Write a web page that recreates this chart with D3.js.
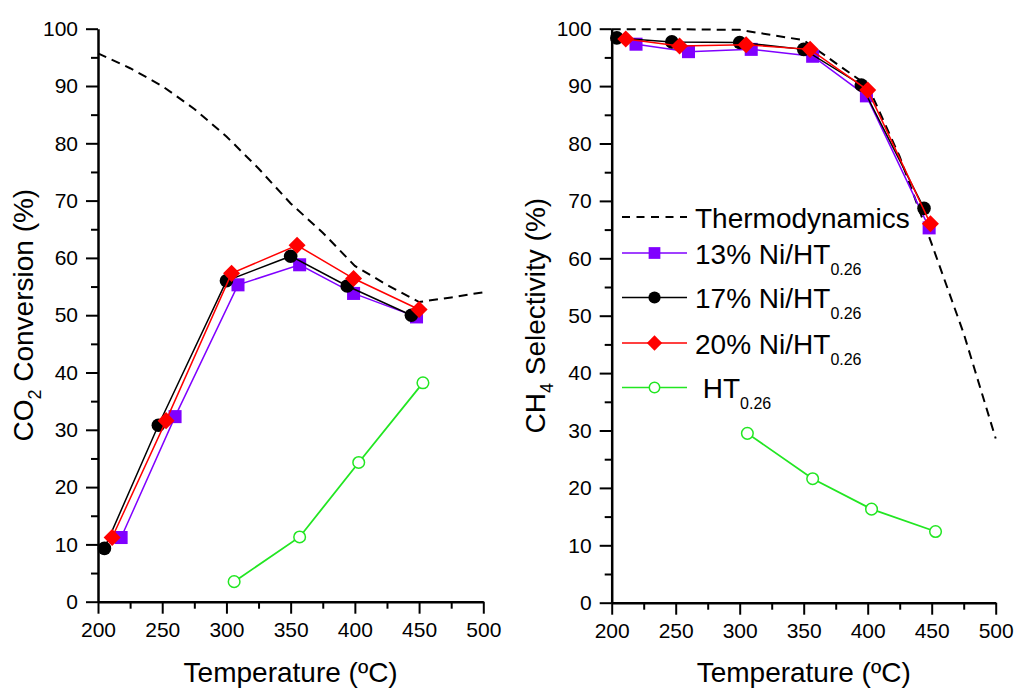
<!DOCTYPE html>
<html>
<head>
<meta charset="utf-8">
<script src="https://cdn.jsdelivr.net/npm/d3@7"></script>
<style>
  body { margin: 0; background: #fff; }
  text { font-family: "Liberation Sans", Arial, Helvetica, sans-serif; fill: #000; }
</style>
</head>
<body>
<svg id="chart" width="1015" height="688"></svg>
<script>
// ---- Axis ticks ----
const tempTicks = [200, 250, 300, 350, 400, 450, 500];
const tempMinorTicks = [225, 275, 325, 375, 425, 475];
const pctTicks = [0, 10, 20, 30, 40, 50, 60, 70, 80, 90, 100];
const pctMinorTicks = [5, 15, 25, 35, 45, 55, 65, 75, 85, 95];

// ---- Thermodynamic equilibrium ----
const thermoConvTemp = [200, 225, 250, 275, 300, 325, 350, 375, 400, 425, 450, 475, 500];
const thermoConversion = [95.7, 93.1, 90.0, 86.0, 81.2, 75.6, 69.5, 64.4, 58.6, 55.3, 52.3, 53.1, 54.0];
const thermoSelTemp = [200, 250, 300, 325, 350, 375, 400, 425, 450, 475, 500];
const thermoSelectivity = [99.9, 99.9, 99.8, 98.9, 98.0, 94.0, 90.1, 77.7, 62.5, 46.9, 28.6];

// ---- CO2 conversion (%) ----
const conv13Temp = [218, 260, 309, 357, 399, 448];
const conv13 = [11.2, 32.3, 55.3, 58.8, 53.8, 49.7];
const conv17Temp = [205, 247, 300, 350, 394, 444];
const conv17 = [9.3, 30.8, 56.0, 60.3, 55.1, 50.0];
const conv20Temp = [211, 253, 304, 355, 399, 450];
const conv20 = [11.2, 31.6, 57.3, 62.2, 56.4, 51.0];
const convHTTemp = [306, 357, 403, 453];
const convHT = [3.5, 11.3, 24.3, 38.2];

// ---- CH4 selectivity (%) ----
const sel13Temp = [219, 260, 309, 357, 399, 448];
const sel13 = [97.3, 96.0, 96.4, 95.2, 88.3, 65.3];
const sel17Temp = [204, 247, 300, 350, 395, 444];
const sel17 = [98.4, 97.7, 97.6, 96.4, 90.2, 68.7];
const sel20Temp = [211, 253, 305, 355, 400, 449];
const sel20 = [98.2, 97.0, 97.2, 96.4, 89.3, 66.0];
const selHTTemp = [306, 357, 403, 453];
const selHT = [29.5, 21.6, 16.3, 12.4];

// ---- Legend labels ----
const legendMain = ["Thermodynamics", "13% Ni/HT", "17% Ni/HT", "20% Ni/HT", " HT"];
const legendSub = ["", "0.26", "0.26", "0.26", "0.26"];

const zip = (xs, ys) => xs.map((x, i) => ({ t: x, v: ys[i] }));

const styles = {
  thermo: { color: "#000", dash: "9,6", width: 2, marker: null },
  s13: { color: "#8000ff", width: 1.5, marker: "square" },
  s17: { color: "#000", width: 1.5, marker: "circle" },
  s20: { color: "#ff0000", width: 1.5, marker: "diamond" },
  ht: { color: "#22e622", width: 1.8, marker: "open" }
};

const panels = [
  {
    left: 98, right: 483.3, top: 28.7, bottom: 601.7,
    title: ["CO", "2", " Conversion (%)"], titleX: 33,
    series: [
      { key: "thermo", pts: zip(thermoConvTemp, thermoConversion) },
      { key: "s13", pts: zip(conv13Temp, conv13) },
      { key: "s17", pts: zip(conv17Temp, conv17) },
      { key: "s20", pts: zip(conv20Temp, conv20) },
      { key: "ht", pts: zip(convHTTemp, convHT) }
    ]
  },
  {
    left: 611.7, right: 995.7, top: 28.7, bottom: 602.7,
    title: ["CH", "4", " Selectivity (%)"], titleX: 545,
    series: [
      { key: "thermo", pts: zip(thermoSelTemp, thermoSelectivity) },
      { key: "s13", pts: zip(sel13Temp, sel13) },
      { key: "s17", pts: zip(sel17Temp, sel17) },
      { key: "s20", pts: zip(sel20Temp, sel20) },
      { key: "ht", pts: zip(selHTTemp, selHT) }
    ],
    legend: true
  }
];

const svg = d3.select("#chart");

function drawMarker(g, type, x, y, color, scale = 1) {
  if (type === "square") {
    g.append("path").attr("transform", `translate(${x},${y})`)
      .attr("d", d3.symbol(d3.symbolSquare, 170 * scale * scale)()).attr("fill", color);
  } else if (type === "circle") {
    g.append("path").attr("transform", `translate(${x},${y})`)
      .attr("d", d3.symbol(d3.symbolCircle, 145 * scale * scale)()).attr("fill", color);
  } else if (type === "diamond") {
    g.append("path").attr("transform", `translate(${x},${y}) rotate(45)`)
      .attr("d", d3.symbol(d3.symbolSquare, 145 * scale * scale)()).attr("fill", color);
  } else if (type === "open") {
    g.append("circle").attr("cx", x).attr("cy", y).attr("r", 5.8 * scale)
      .attr("fill", "#fff").attr("stroke", color).attr("stroke-width", 1.5);
  }
}

panels.forEach(p => {
  const x = d3.scaleLinear().domain([200, 500]).range([p.left, p.right]);
  const y = d3.scaleLinear().domain([0, 100]).range([p.bottom, p.top]);
  const g = svg.append("g");

  // minor ticks
  g.append("g").attr("transform", `translate(0,${p.bottom})`)
    .call(d3.axisBottom(x).tickValues(tempMinorTicks).tickSize(7).tickFormat(""))
    .call(a => a.select(".domain").remove());
  g.append("g").attr("transform", `translate(${p.left},0)`)
    .call(d3.axisLeft(y).tickValues(pctMinorTicks).tickSize(7).tickFormat(""))
    .call(a => a.select(".domain").remove());

  // major axes
  const xa = g.append("g").attr("transform", `translate(0,${p.bottom})`)
    .call(d3.axisBottom(x).tickValues(tempTicks).tickSize(12).tickSizeOuter(0).tickPadding(8));
  const ya = g.append("g").attr("transform", `translate(${p.left},0)`)
    .call(d3.axisLeft(y).tickValues(pctTicks).tickSize(12).tickSizeOuter(0).tickPadding(8));
  [xa, ya].forEach(a => {
    a.selectAll("text").style("font-size", "21px").attr("fill", "#000");
    a.select(".domain").attr("stroke-width", 2.5);
  });
  g.selectAll(".tick line").attr("stroke", "#000").attr("stroke-width", 2);
  xa.selectAll("text").attr("dy", "0.75em");

  // axis titles
  g.append("text").attr("x", (p.left + p.right) / 2).attr("y", 682)
    .attr("text-anchor", "middle").style("font-size", "28px").text("Temperature (ºC)");
  const t = g.append("text")
    .attr("transform", `translate(${p.titleX},${(p.top + p.bottom) / 2}) rotate(-90)`)
    .attr("text-anchor", "middle").style("font-size", "28px");
  t.append("tspan").text(p.title[0]);
  t.append("tspan").attr("dy", 8).style("font-size", "18px").text(p.title[1]);
  t.append("tspan").attr("dy", -8).text(p.title[2]);

  // series
  const line = d3.line().x(d => x(d.t)).y(d => y(d.v));
  p.series.forEach(s => {
    const st = styles[s.key];
    const sg = g.append("g");
    sg.append("path").datum(s.pts).attr("d", line).attr("fill", "none")
      .attr("stroke", st.color).attr("stroke-width", st.width)
      .attr("stroke-dasharray", st.dash || null);
    if (st.marker) s.pts.forEach(d => drawMarker(sg, st.marker, x(d.t), y(d.v), st.color));
  });

  // legend
  if (p.legend) {
    const rows = [217, 253, 297.5, 343, 387.5];
    const keys = ["thermo", "s13", "s17", "s20", "ht"];
    const lg = g.append("g");
    keys.forEach((k, i) => {
      const st = styles[k];
      lg.append("line").attr("x1", 622).attr("x2", 687).attr("y1", rows[i]).attr("y2", rows[i])
        .attr("stroke", st.color).attr("stroke-width", st.dash ? 2 : 1.5)
        .attr("stroke-dasharray", st.dash ? "8,6.5" : null);
      if (st.marker) drawMarker(lg, st.marker, 654.5, rows[i], st.color, 0.9);
      const tx = lg.append("text").attr("x", 695).attr("y", rows[i] + 10.5)
        .style("font-size", "28px").attr("xml:space", "preserve");
      tx.append("tspan").text(legendMain[i]);
      if (legendSub[i]) tx.append("tspan").attr("dy", 11).style("font-size", "16px").text(legendSub[i]);
    });
  }
});
</script>
</body>
</html>
